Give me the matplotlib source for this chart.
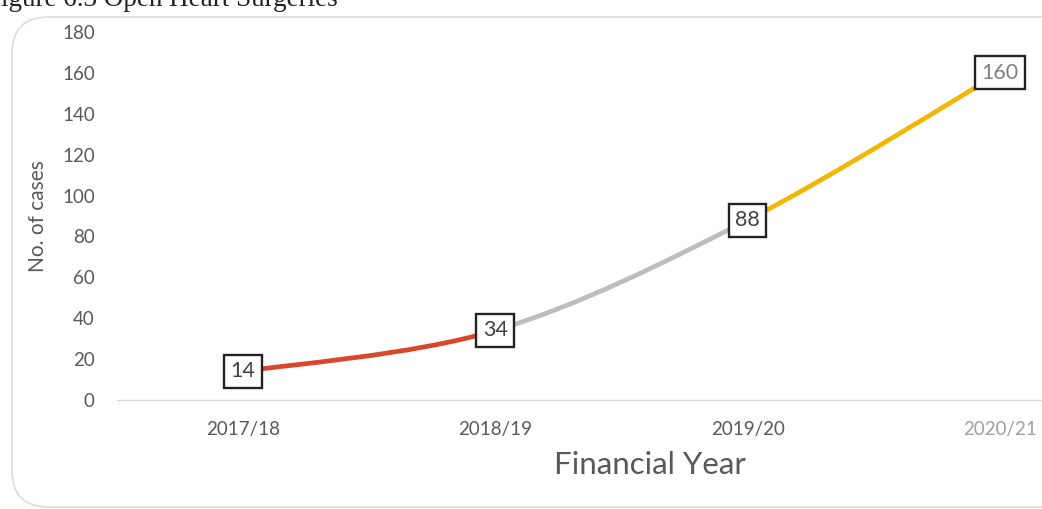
import matplotlib
matplotlib.use("Agg")
import matplotlib.pyplot as plt
from matplotlib.path import Path
from matplotlib.patches import PathPatch, FancyBboxPatch

# Open heart surgeries per financial year
years = ["2017/18", "2018/19", "2019/20", "2020/21"]
cases = [14, 34, 88, 160]
segment_colors = ["#d9472b", "#bdbdbd", "#f2b705"]
y_ticks = [0, 20, 40, 60, 80, 100, 120, 140, 160, 180]

W, H = 1042, 509
fig = plt.figure(figsize=(W / 100, H / 100), dpi=100)
fig.patch.set_facecolor("white")

# Rounded chart frame (right side runs past the page edge)
frame = FancyBboxPatch((12 / W, 2 / H), 1.1, 490 / H,
                       boxstyle="round,pad=0,rounding_size=0.035",
                       transform=fig.transFigure, facecolor="none",
                       edgecolor="#dcdcdc", linewidth=1.2, mutation_aspect=W / H,
                       zorder=-1)
fig.patches.append(frame)

# Figure caption, partly cut off at the top of the page
fig.text(-14 / W, 1 - 6 / H, "Figure 6.3 Open Heart Surgeries",
         fontsize=19.5, family="Liberation Serif", color="#222222",
         ha="left", va="baseline")

left, right = 117 / W, 1126 / W
bottom, top = (H - 400) / H, (H - 32) / H
ax = fig.add_axes([left, bottom, right - left, top - bottom])
ax.set_facecolor("none")
ax.set_xlim(-0.5, len(years) - 0.5)
ax.set_ylim(0, 180)

for s in ["top", "right", "left"]:
    ax.spines[s].set_visible(False)
ax.spines["bottom"].set_color("#d9d9d9")
ax.spines["bottom"].set_linewidth(1.0)

ax.set_xticks(range(len(years)))
ax.set_xticklabels(years)
ax.set_yticks(y_ticks)
ax.tick_params(axis="both", length=0, colors="#595959", labelsize=13.5)
ax.tick_params(axis="y", pad=16)
ax.tick_params(axis="x", pad=15)
for lab in ax.get_xticklabels() + ax.get_yticklabels():
    lab.set_family("Lato")
ax.get_xticklabels()[-1].set_color("#a0a0a0")

ax.set_ylabel("No. of cases", fontsize=15, color="#595959", family="Lato")
ax.yaxis.set_label_coords(-0.068, 0.5)
fig.text(650 / W, 1 - 465 / H, "Financial Year", fontsize=22.5, color="#595959",
         family="Lato", ha="center", va="center")

# Smoothed line, one colour per year-to-year segment
xs = list(range(len(cases)))
pts = list(zip(xs, cases))
n = len(pts)
for i in range(n - 1):
    p0 = pts[i - 1] if i > 0 else pts[i]
    p1 = pts[i]
    p2 = pts[i + 1]
    p3 = pts[i + 2] if i + 2 < n else pts[i + 1]
    c1 = (p1[0] + (p2[0] - p0[0]) / 6, p1[1] + (p2[1] - p0[1]) / 6)
    c2 = (p2[0] - (p3[0] - p1[0]) / 6, p2[1] - (p3[1] - p1[1]) / 6)
    path = Path([p1, c1, c2, p2],
                [Path.MOVETO, Path.CURVE4, Path.CURVE4, Path.CURVE4])
    ax.add_patch(PathPatch(path, facecolor="none", edgecolor=segment_colors[i],
                           linewidth=3.4, capstyle="butt", zorder=2))

# Boxed value labels at each point
for i, v in enumerate(cases):
    ax.text(i, v, str(v), ha="center", va="center", fontsize=15.5,
            family="Lato", color="#404040" if i < 3 else "#808080", zorder=5,
            bbox=dict(boxstyle="square,pad=0.3", facecolor="white",
                      edgecolor="#222222", linewidth=1.7))

fig.savefig("out.png", dpi=100)
